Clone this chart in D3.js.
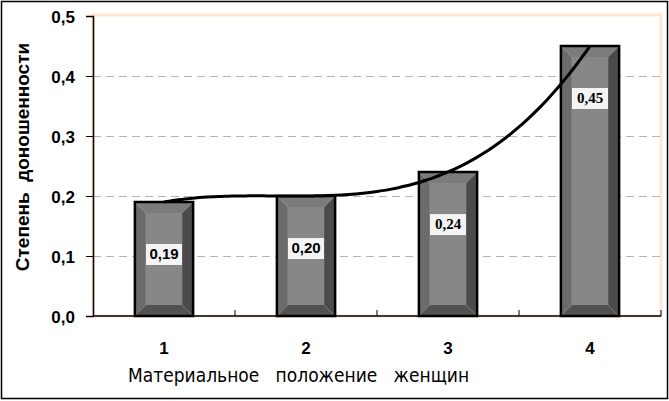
<!DOCTYPE html>
<html>
<head>
<meta charset="utf-8">
<script src="https://cdn.jsdelivr.net/npm/d3@7"></script>
<style>
  body { margin: 0; background: #fff; }
  svg { display: block; }
</style>
</head>
<body>
<div id="chart"></div>
<script>
/* CONSTANTS AND GLOBALS */
const width = 669;
const height = 401;
const margin = { top: 16, right: 8, bottom: 85, left: 93 };

/* DATA */
const categories = ["1", "2", "3", "4"];
const values = [0.19, 0.20, 0.24, 0.45];
const valueLabels = ["0,19", "0,20", "0,24", "0,45"];
const yTicks = [0, 0.1, 0.2, 0.3, 0.4, 0.5];
const yTickLabels = ["0,0", "0,1", "0,2", "0,3", "0,4", "0,5"];
const yTitle = "Степень  доношенности";
const xTitle = "Материальное   положение   женщин";

const labelFonts = ["Liberation Sans", "Liberation Sans", "Liberation Serif", "Liberation Serif"];

/* SCALES */
const xScale = d3.scaleBand()
  .domain(categories)
  .range([margin.left, width - margin.right])
  .paddingInner(0.59)
  .paddingOuter(0.295);

const yScale = d3.scaleLinear()
  .domain([0, 0.5])
  .range([height - margin.bottom, margin.top]);

// full category slots for the tick marks between categories
const slot = d3.scaleBand()
  .domain(categories)
  .range([margin.left, width - margin.right]);

/* HTML ELEMENTS */
const svg = d3.select("#chart")
  .append("svg")
  .attr("width", width)
  .attr("height", height)
  .style("background-color", "white");

// outer frame
svg.append("rect")
  .attr("x", 1.5).attr("y", 1.5)
  .attr("width", width - 3).attr("height", height - 4)
  .attr("fill", "none")
  .attr("stroke", "#000")
  .attr("stroke-width", 1.5);

// plot area border
svg.append("rect")
  .attr("x", margin.left).attr("y", margin.top - 1)
  .attr("width", width - margin.right - margin.left)
  .attr("height", height - margin.bottom - margin.top + 1)
  .attr("fill", "none")
  .attr("stroke", "#fde6d6")
  .attr("stroke-width", 3);

// gridlines
svg.append("g")
  .selectAll("line")
  .data(yTicks.filter(t => t > 0 && t < 0.5))
  .join("line")
  .attr("x1", margin.left)
  .attr("x2", width - margin.right)
  .attr("y1", d => yScale(d) + 0.5)
  .attr("y2", d => yScale(d) + 0.5)
  .attr("stroke", "#b4b4b4")
  .attr("stroke-dasharray", "8,5");

/* BARS with bevel */
const b = 11;
const bars = svg.append("g")
  .selectAll("g")
  .data(values)
  .join("g");

bars.each(function (v, i) {
  const g = d3.select(this);
  const x0 = xScale(categories[i]);
  const x1 = x0 + xScale.bandwidth();
  const y0 = yScale(v);
  const y1 = yScale(0);
  const faces = [
    { pts: [[x0, y0], [x1, y0], [x1 - b, y0 + b], [x0 + b, y0 + b]], c: "#7b7b7b" },
    { pts: [[x0, y0], [x0 + b, y0 + b], [x0 + b, y1 - b], [x0, y1]], c: "#6b6b6b" },
    { pts: [[x1, y0], [x1, y1], [x1 - b, y1 - b], [x1 - b, y0 + b]], c: "#4b4b4b" },
    { pts: [[x0, y1], [x0 + b, y1 - b], [x1 - b, y1 - b], [x1, y1]], c: "#515151" }
  ];
  g.append("rect")
    .attr("x", x0 + b).attr("y", y0 + b)
    .attr("width", x1 - x0 - 2 * b)
    .attr("height", Math.max(0, y1 - y0 - 2 * b))
    .attr("fill", "#878787");
  g.selectAll("polygon")
    .data(faces)
    .join("polygon")
    .attr("points", d => d.pts.map(p => p.join(",")).join(" "))
    .attr("fill", d => d.c);
  g.append("rect")
    .attr("x", x0).attr("y", y0)
    .attr("width", x1 - x0).attr("height", y1 - y0)
    .attr("fill", "none")
    .attr("stroke", "#000")
    .attr("stroke-width", 2.5);
});

/* AXES */
const yAxis = d3.axisLeft(yScale)
  .tickValues(yTicks)
  .tickSize(7)
  .tickFormat((d, i) => yTickLabels[i]);

const yG = svg.append("g")
  .attr("transform", `translate(${margin.left},0)`)
  .call(yAxis);
yG.select(".domain").attr("stroke", "#000").attr("stroke-width", 1.5);
yG.selectAll(".tick line").attr("stroke", "#000");
yG.selectAll(".tick text")
  .attr("x", -18)
  .attr("dy", "0.36em")
  .attr("font-family", "Liberation Sans, Arial, sans-serif")
  .attr("font-weight", "bold")
  .attr("font-size", 17)
  .attr("fill", "#000");

// x axis line and inner tick marks between categories
svg.append("line")
  .attr("x1", margin.left).attr("x2", width - margin.right)
  .attr("y1", yScale(0)).attr("y2", yScale(0))
  .attr("stroke", "#000").attr("stroke-width", 1.5);

svg.append("g")
  .selectAll("line")
  .data(categories)
  .join("line")
  .attr("x1", d => slot(d) + slot.bandwidth())
  .attr("x2", d => slot(d) + slot.bandwidth())
  .attr("y1", yScale(0))
  .attr("y2", yScale(0) - 6)
  .attr("stroke", "#000");

svg.append("g")
  .selectAll("text")
  .data(categories)
  .join("text")
  .attr("x", d => xScale(d) + xScale.bandwidth() / 2)
  .attr("y", 354)
  .attr("text-anchor", "middle")
  .attr("font-family", "Liberation Sans, Arial, sans-serif")
  .attr("font-weight", "bold")
  .attr("font-size", 17)
  .text(d => d);

/* TREND LINE: 3rd order polynomial through the points */
const xs = categories.map((c, i) => i + 1);
function poly(t) {
  let s = 0;
  for (let i = 0; i < xs.length; i++) {
    let l = 1;
    for (let j = 0; j < xs.length; j++) if (j !== i) l *= (t - xs[j]) / (xs[i] - xs[j]);
    s += values[i] * l;
  }
  return s;
}
const trend = d3.range(1, 4.001, 0.05).map(t => [t, poly(t)]);
const xPos = t => xScale(categories[0]) + xScale.bandwidth() / 2 + (t - 1) * slot.step();

svg.append("path")
  .datum(trend)
  .attr("d", d3.line().x(d => xPos(d[0])).y(d => yScale(d[1])).curve(d3.curveBasis))
  .attr("fill", "none")
  .attr("stroke", "#000")
  .attr("stroke-width", 3);

/* VALUE LABELS */
const lab = svg.append("g")
  .selectAll("g")
  .data(values)
  .join("g")
  .attr("transform", (d, i) => `translate(${xScale(categories[i]) + xScale.bandwidth() / 2},${yScale(d) + 52})`);

lab.append("rect")
  .attr("x", -18).attr("y", -10)
  .attr("width", 36).attr("height", 21)
  .attr("fill", "#f4f4f4");

lab.append("text")
  .attr("text-anchor", "middle")
  .attr("dy", "0.36em")
  .attr("font-family", (d, i) => labelFonts[i])
  .attr("font-weight", "bold")
  .attr("font-size", 15)
  .text((d, i) => valueLabels[i]);

/* TITLES */
svg.append("text")
  .attr("transform", `translate(29,${(yScale(0) + yScale(0.5)) / 2 - 9}) rotate(-90)`)
  .attr("text-anchor", "middle")
  .attr("font-family", "Liberation Sans, Arial, sans-serif")
  .attr("font-weight", "bold")
  .attr("font-size", 19)
  .style("white-space", "pre")
  .text(yTitle);

svg.append("text")
  .attr("x", 128)
  .attr("y", 382)
  .attr("font-family", "DejaVu Sans Condensed, DejaVu Sans, sans-serif")
  .attr("font-size", 19)
  .style("white-space", "pre")
  .text(xTitle);
</script>
</body>
</html>
